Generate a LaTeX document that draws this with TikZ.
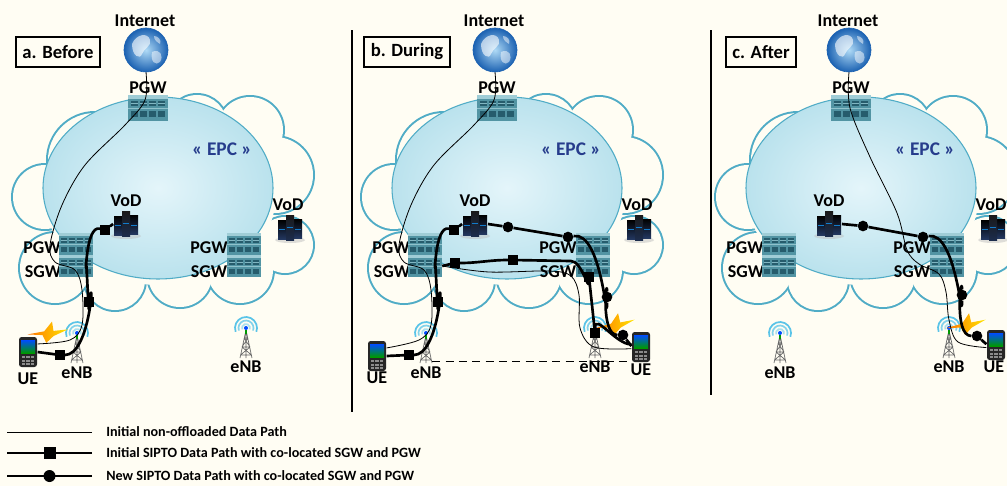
\documentclass[tikz,border=0pt]{standalone}
\usepackage{fontspec}
\setmainfont{Carlito}
\usetikzlibrary{positioning}
\tikzset{>=stealth}
\definecolor{paper}{RGB}{255,253,243}
\definecolor{cloudline}{RGB}{80,172,198}
\definecolor{epcout}{RGB}{186,226,237}
\definecolor{epcin}{RGB}{228,245,250}
\definecolor{epctext}{RGB}{38,60,140}
\definecolor{gwdark}{RGB}{38,92,108}
\definecolor{gwmid}{RGB}{82,148,163}
\definecolor{gwlight}{RGB}{160,205,214}
\definecolor{waveblue}{RGB}{90,196,232}
\definecolor{globein}{RGB}{175,218,246}
\definecolor{globeout}{RGB}{28,98,178}
\definecolor{vodblue}{RGB}{35,55,95}

\tikzset{
  lbl/.style={font=\bfseries\fontsize{13.5}{14}\selectfont, inner sep=0pt},
  tag/.style={draw, line width=1.6pt, font=\bfseries\fontsize{14}{14}\selectfont, inner xsep=5pt, minimum height=22pt},
  legend/.style={font=\bfseries\fontsize{10.6}{11}\selectfont, inner sep=0pt, anchor=west},
  slot/.style 2 args={inner sep=0pt, minimum width=#1, minimum height=#2},
  plain/.style={line width=.6pt},
  sipto/.style={line width=2pt, line join=round},
  sq/.style={fill, inner sep=0pt, minimum size=7pt},
  dot/.style={circle, fill, inner sep=0pt, minimum size=8pt},
  % icons
  gw/.pic={
    \fill[gwlight] (-17,-11) rectangle (17,-8);
    \fill[gwmid] (-17,-8) rectangle (17,11);
    \foreach \u in {-12,-4,4,12}{
      \fill[gwdark] (\u-3.2,-6) rectangle (\u+3.2,-1.5);
      \fill[gwlight!60!gwmid] (\u-3.2,-4) rectangle (\u+3.2,-3.4);
      \fill[gwdark] (\u-3.2,3) rectangle (\u+3.2,8);
    }
    \fill[gwlight!80!gwmid] (-17,0) rectangle (17,1.2);
  },
  globe/.pic={
    \shade[inner color=globein, outer color=globeout] (0,0) circle (22);
    \fill[white, opacity=.6] (-14,-6) .. controls (-10,-16) and (2,-18) .. (4,-10) .. controls (6,-4) and (-2,-2) .. (-4,4) .. controls (-6,10) and (-14,6) .. cycle;
    \fill[white, opacity=.5] (6,2) .. controls (14,-2) and (18,6) .. (14,12) .. controls (10,16) and (4,12) .. cycle;
    \fill[white, opacity=.5] (8,-14) .. controls (12,-14) and (16,-10) .. (14,-6) .. controls (11,-8) and (8,-10) .. cycle;
    \draw[globeout, line width=.5pt] (0,0) circle (22);
  },
  vod/.pic={
    \fill[black!25, opacity=.5] (0,12) ellipse (15 and 3);
    \shade[top color=black, bottom color=vodblue] (-12,-8) rectangle (-4,11);
    \shade[top color=black, bottom color=vodblue] (4,-9) rectangle (12,10);
    \shade[top color=black!90, bottom color=vodblue!80!black] (-4,-13) rectangle (4,12);
    \draw[cyan!60!blue, line width=.5pt] (-11,1) -- (-5,1) (-3,-1) -- (3,-1) (5,1) -- (11,1);
  },
  enb/.pic={
    \foreach \r/\o in {4/.5, 7.5/.75, 11/1}
      \draw[waveblue, opacity=\o, line width=1.3pt] (160:\r) arc (160:380:\r);
    \draw[black!60, line width=.5pt] (0,2) -- (-6,30) (0,2) -- (6,30) (0,2) -- (0,30)
      (-2,10) -- (2,10) (-4,19) -- (4,19) (-5.5,27) -- (5.5,27)
      (-2,10) -- (4,19) (2,10) -- (-4,19) (-4,19) -- (5.5,27) (4,19) -- (-5.5,27);
    \fill[green!60!black] (-.8,2) rectangle (.8,6);
    \fill[blue!70!cyan] (0,0) circle (2);
  },
  ue/.pic={
    \fill[black!85, rounded corners=2pt] (-9,-15) rectangle (9,15);
    \shade[top color=blue!70!cyan, bottom color=green!60!black] (-7,-12) rectangle (7,1);
    \foreach \u in {-4.5,0,4.5} \foreach \v in {5,8.5,12}
      \fill[black!45] (\u-1.6,\v-1) rectangle (\u+1.6,\v+1);
  },
  flash/.pic={
    \shade[left color=orange!90!red, right color=yellow!80!orange]
      (-20,5) -- (-4,-1) -- (2,-12) -- (5,-3) -- (19,-7) -- (6,2) -- (0,10) -- (-5,3) -- cycle;
  }
}

\begin{document}
\begin{tikzpicture}[x=0.75pt, y=-0.75pt]
\fill[paper] (0,0) rectangle (1007,486);
\useasboundingbox (0,0) rectangle (1007,486);
\begin{scope}
\clip (0,0) rectangle (1007,486);

% the three network panels
\foreach \p/\dx/\lab in {a/0/a. Before, b/349/b. During, c/703/c. After}{
\begin{scope}[shift={(\dx,0)}]
  % cloud
  \foreach \cx/\cy/\r in {197/125/30, 250/130/33, 275/175/38, 285/245/28, 240/270/33, 180/275/32, 115/280/30, 55/268/35, 45/197/32, 95/160/47}
    \draw[cloudline, line width=3pt] (\cx,\cy) circle (\r);
  \foreach \cx/\cy/\r in {197/125/30, 250/130/33, 275/175/38, 285/245/28, 240/270/33, 180/275/32, 115/280/30, 55/268/35, 45/197/32, 95/160/47}
    \fill[paper] (\cx,\cy) circle (\r);
  \fill[paper] (160,200) ellipse (115 and 85);
  \shadedraw[inner color=epcin, outer color=epcout, draw=cloudline, line width=.8pt] (158,188) ellipse (115 and 91);
  \node[lbl, text=epctext, font=\bfseries\fontsize{14.5}{15}\selectfont] (\p-epc) at (222,149) {« EPC »};

  \node[tag] (\p-tag) at (58,52) {\lab};

  \node[lbl] (\p-inet) at (145,21) {Internet};
  \node[slot={33pt}{33pt}] (\p-net) at (146,50) {};
  \pic at (\p-net) {globe};
  \node[lbl] (\p-toplbl) at (148,88) {PGW};
  \node[slot={30pt}{19pt}] (\p-top) at (148,108) {};
  \pic[scale=1.15] at (\p-top) {gw};

  \node[lbl] (\p-vodlbl) at (126,201) {VoD};
  \node[slot={19pt}{19pt}] (\p-vod) at (126,224) {};
  \pic at (\p-vod) {vod};
  \node[lbl] (\p-vodxlbl) at (288,205) {VoD};
  \node[slot={19pt}{19pt}] (\p-vodx) at (290,228) {};
  \pic at (\p-vodx) {vod};

  \node[lbl] (\p-pgwllbl) at (42,248) {PGW};
  \node[lbl] (\p-sgwllbl) at (43,272) {SGW};
  \node[slot={25.5pt}{16.5pt}] (\p-pgwl) at (76,244) {};
  \node[slot={25.5pt}{16.5pt}] (\p-sgwl) at (76,266) {};
  \pic at (\p-pgwl) {gw};
  \pic at (\p-sgwl) {gw};

  \node[lbl] (\p-pgwrlbl) at (209,248) {PGW};
  \node[lbl] (\p-sgwrlbl) at (209,272) {SGW};
  \node[slot={25.5pt}{16.5pt}] (\p-pgwr) at (244,244) {};
  \node[slot={25.5pt}{16.5pt}] (\p-sgwr) at (244,266) {};
  \pic at (\p-pgwr) {gw};
  \pic at (\p-sgwr) {gw};

  \pic at (77,333) {enb};
  \node[slot={9pt}{18pt}] (\p-enbl) at (77,349) {};
  \node[lbl] (\p-enbllbl) at (77,373) {eNB};
  \pic at (246,328) {enb};
  \node[slot={9pt}{18pt}] (\p-enbr) at (246,344) {};
  \node[lbl] (\p-enbrlbl) at (246,367) {eNB};
\end{scope}}

% a. Before
\begin{scope}
  \pic[rotate=-10] at (48,333) {flash};
  \node[slot={14pt}{22pt}] (a-ue) at (28,352) {};
  \pic at (a-ue) {ue};
  \node[lbl] (a-uelbl) at (28,379) {UE};
  \draw[plain] plot[smooth, tension=.55] coordinates {(a-net.south) (145,100) (125,125) (85,165) (62,205) (50,245) (55,262) (75,270) (82,290) (82,325) (70,340) (a-ue.40)};
  \node[sq] (a-s1) at (105,230) {};
  \node[sq] (a-s2) at (89,302) {};
  \node[sq] (a-s3) at (60,355) {};
  \draw[sipto] (a-vod.west) -- (a-s1) to[out=165,in=270] (86,265) to[out=90,in=270] (a-s2) to[out=80,in=0] (a-s3) -- (a-ue.east);
\end{scope}

% b. During
\begin{scope}[shift={(349,0)}]
  \pic[rotate=-5] at (266,325) {flash};
  \node[slot={14pt}{22pt}] (b-uel) at (28,356) {};
  \pic at (b-uel) {ue};
  \node[lbl] (b-uellbl) at (28,378) {UE};
  \node[slot={14pt}{23pt}] (b-uer) at (292,347) {};
  \pic at (b-uer) {ue};
  \node[lbl] (b-uerlbl) at (292,370) {UE};
  \draw[plain] plot[smooth, tension=.55] coordinates {(b-net.south) (145,100) (125,125) (85,165) (62,205) (50,245) (55,262) (75,270) (82,290) (82,325) (70,340) (b-uel.40)};
  \draw[plain] plot[smooth, tension=.55] coordinates {(b-sgwl.east) (140,272) (200,271) (222,276) (230,295) (231,328) (245,347) (b-uer.190)};
  \draw[line width=.8pt, dash pattern=on 6pt off 4pt] (b-enbl.south east) -- (b-uer.west |- b-enbl.south east);
  % initial path towards the old anchor
  \node[sq] (b-s1) at (105,230) {};
  \node[sq] (b-s2) at (89,302) {};
  \node[sq] (b-s3) at (60,355) {};
  \draw[sipto] (b-vod.west) -- (b-s1) to[out=165,in=270] (86,265) to[out=90,in=270] (b-s2) to[out=80,in=0] (b-s3) -- (b-uel.east);
  % same path after the move
  \node[sq] (b-s4) at (106,263) {};
  \node[sq] (b-s5) at (164,260) {};
  \node[sq] (b-s6) at (240,277) {};
  \node[sq] (b-s7) at (246,333) {};
  \draw[sipto] (b-sgwl.east) -- (b-s4) to[out=0,in=180] (b-s5) -- (222,261) to[out=0,in=270] (b-s6) -- (b-s7) to[out=90,in=180] (b-uer.165);
  % new path through the closer gateway
  \node[dot] (b-d1) at (159,227) {};
  \node[dot] (b-d2) at (219,237) {};
  \node[dot] (b-d3) at (258,297) {};
  \node[dot] (b-d4) at (274,335) {};
  \draw[sipto] (b-vod.east) -- (b-d1) -- (b-d2) to[out=10,in=270] (b-d3) to[out=90,in=180] (b-d4) -- (b-uer.175);
\end{scope}

% c. After
\begin{scope}[shift={(703,0)}]
  \pic[rotate=-5] at (263,325) {flash};
  \node[slot={14pt}{22pt}] (c-ue) at (293,345) {};
  \pic at (c-ue) {ue};
  \node[lbl] (c-uelbl) at (291,367) {UE};
  \draw[plain] plot[smooth, tension=.55] coordinates {(c-net.south) (147,108) (167,157) (194,213) (204,250) (216,264) (236,274) (243,292) (246,320) (255,342) (c-ue.195)};
  \node[dot] (c-d1) at (160,226) {};
  \node[dot] (c-d2) at (220,237) {};
  \node[dot] (c-d3) at (259,295) {};
  \node[dot] (c-d4) at (274,336) {};
  \draw[sipto] (c-vod.east) -- (c-d1) -- (c-d2) to[out=10,in=270] (c-d3) to[out=90,in=180] (c-d4) -- (c-ue.175);
\end{scope}

% separators
\draw[line width=1.5pt] (352,30) -- (352,412);
\draw[line width=1.5pt] (711,30) -- (711,395);

% legend
\node[legend] (leg1) at (106,432) {Initial non-offloaded Data Path};
\node[legend] (leg2) at (106,453) {Initial SIPTO Data Path with co-located SGW and PGW};
\node[legend] (leg3) at (106,476) {New SIPTO Data Path with co-located SGW and PGW};
\draw[plain] ([xshift=-10.5pt]leg1.west) -- ++(-85,0);
\draw[sipto] ([xshift=-10.5pt]leg2.west) -- ++(-85,0) node[sq, minimum size=9pt, pos=.5] {};
\draw[sipto] ([xshift=-10.5pt]leg3.west) -- ++(-85,0) node[dot, minimum size=9pt, pos=.5] {};
\end{scope}
\end{tikzpicture}
\end{document}
